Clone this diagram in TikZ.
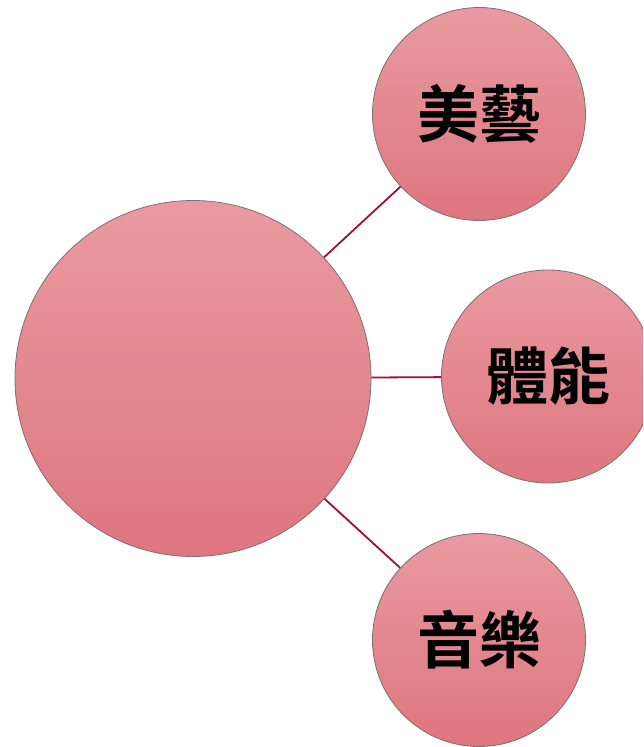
\documentclass[tikz,border=0pt]{standalone}
\usepackage{fontspec}
\newfontfamily\cjk{Noto Sans CJK TC Bold}
\definecolor{ctop}{HTML}{E99AA0}
\definecolor{cbot}{HTML}{DE767F}
\definecolor{edge}{HTML}{7F6F70}
\definecolor{link}{HTML}{A3102E}
\begin{document}
\begin{tikzpicture}[x=1pt,y=-1pt,
  bubble/.style={circle, draw=edge, line width=0.8pt, top color=ctop, bottom color=cbot, inner sep=0pt, font=\cjk\fontsize{62}{62}\selectfont, text=black},
  linkline/.style={draw=link, line width=1.8pt}]
\useasboundingbox (0,0) rectangle (643,747);
\clip (0,0) rectangle (643,747);
\node[bubble, minimum size=356pt] (c) at (193,378.5) {};
\node[bubble, minimum size=213pt] (a) at (479,114) {美藝};
\node[bubble, minimum size=213pt] (b) at (548,376.5) {體能};
\node[bubble, minimum size=213pt] (m) at (479,640) {音樂};
\draw[linkline] (c) -- (a);
\draw[linkline] (c) -- (b);
\draw[linkline] (c) -- (m);
\end{tikzpicture}
\end{document}
